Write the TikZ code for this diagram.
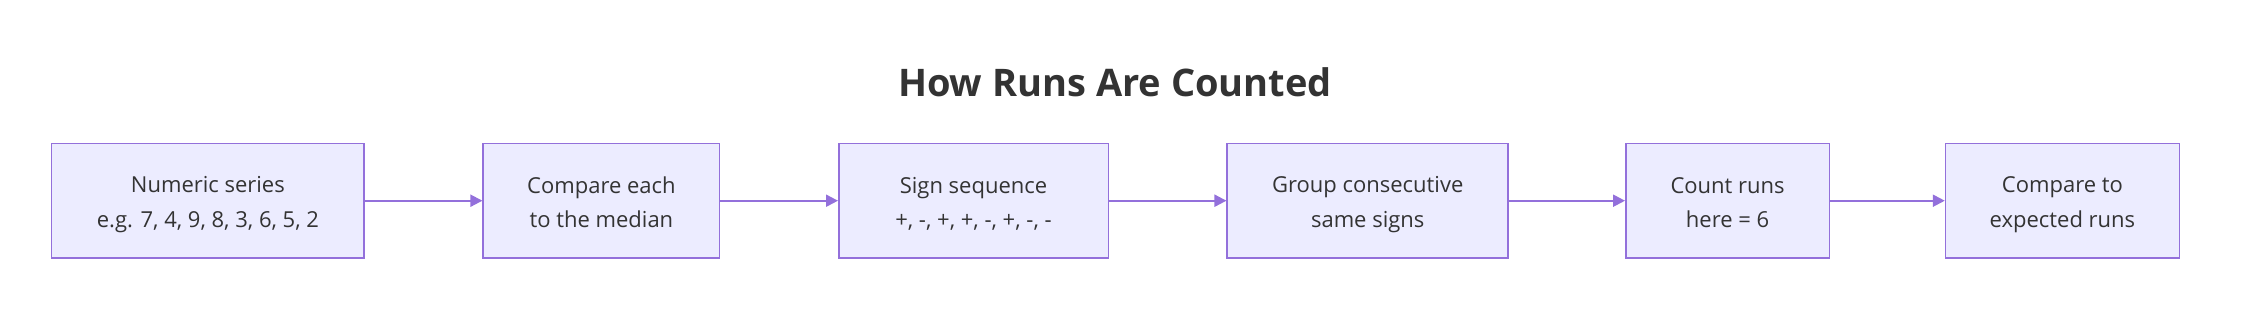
\documentclass[tikz,border=0pt]{standalone}
\usepackage{fontspec}
\setmainfont{Open Sans}
\usetikzlibrary{arrows.meta}
\definecolor{boxfill}{HTML}{ECECFF}
\definecolor{boxdraw}{HTML}{9370DB}
\definecolor{txt}{HTML}{333333}
\newcommand{\twolines}[2]{\rule{0pt}{24pt}#1\\#2\rule[-4.4pt]{0pt}{4.4pt}}
\begin{document}
\begin{tikzpicture}[x=1pt,y=-1pt,
  stepbox/.style={draw=boxdraw, fill=boxfill, line width=1.5pt, minimum height=114.7pt,
    text=txt, font=\fontsize{22}{34.4}\selectfont, align=center, inner sep=0pt},
  flow/.style={draw=boxdraw, line width=2pt, -{Triangle[length=12pt,width=12pt]}}]
\useasboundingbox (0,0) rectangle (2248,314);
\node[font=\fontsize{38}{44}\selectfont\bfseries, text=txt, inner sep=0pt] (title) at (1115,82) {How Runs Are Counted};
\node[stepbox, minimum width=312.6pt] (n1) at (207.9,200.7) {\twolines{Numeric series}{e.g. 7, 4, 9, 8, 3, 6, 5, 2}};
\node[stepbox, minimum width=236.5pt] (n2) at (601.4,200.7) {\twolines{Compare each}{to the median}};
\node[stepbox, minimum width=269.5pt] (n3) at (973.5,200.7) {\twolines{Sign sequence}{+, -, +, +, -, +, -, -}};
\node[stepbox, minimum width=281pt] (n4) at (1367.7,200.7) {\twolines{Group consecutive}{same signs}};
\node[stepbox, minimum width=203.6pt] (n5) at (1727.6,200.7) {\twolines{Count runs}{here = 6}};
\node[stepbox, minimum width=233.7pt] (n6) at (2062.4,200.7) {\twolines{Compare to}{expected runs}};
\draw[flow] (n1) -- (n2);
\draw[flow] (n2) -- (n3);
\draw[flow] (n3) -- (n4);
\draw[flow] (n4) -- (n5);
\draw[flow] (n5) -- (n6);
\end{tikzpicture}
\end{document}
